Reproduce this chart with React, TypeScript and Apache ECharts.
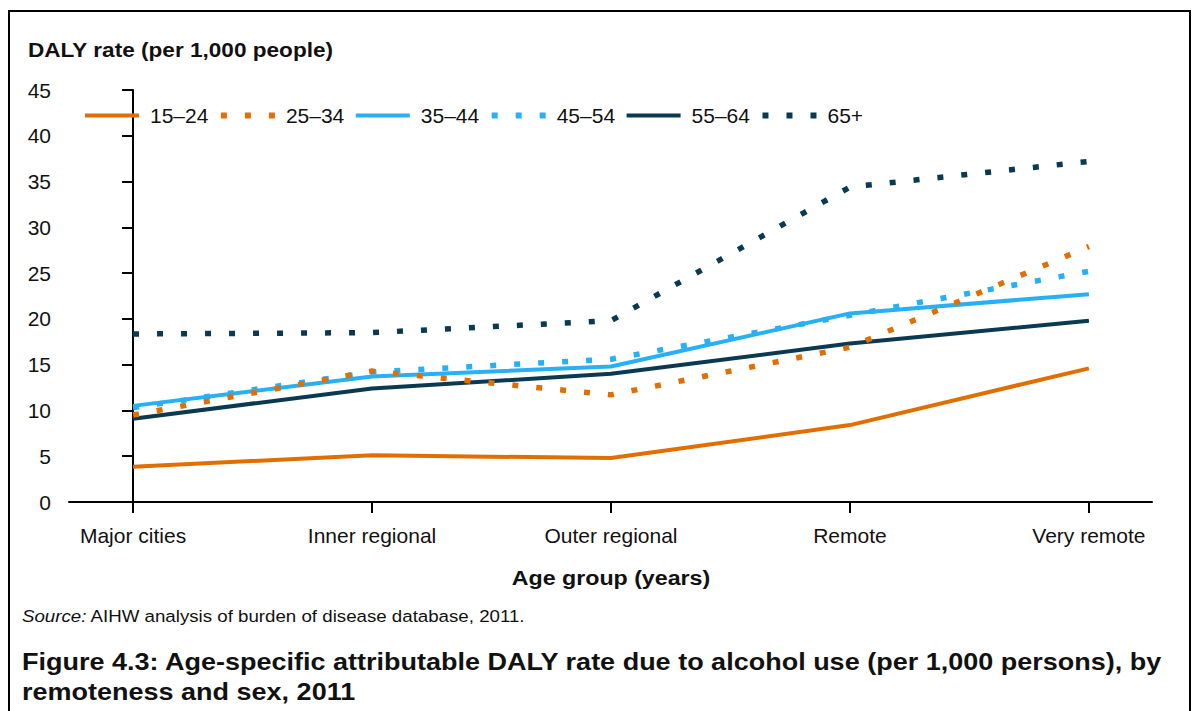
import React, { useEffect, useRef } from "react";
import * as echarts from "echarts";

const categories = ["Major cities", "Inner regional", "Outer regional", "Remote", "Very remote"];
const ageGroups = ["15–24", "25–34", "35–44", "45–54", "55–64", "65+"];
const s15_24 = [3.85, 5.1, 4.8, 8.4, 14.6];
const s25_34 = [9.5, 14.3, 11.7, 16.9, 27.9];
const s35_44 = [10.5, 13.7, 14.8, 20.6, 22.7];
const s45_54 = [10.3, 14.2, 15.6, 20.4, 25.2];
const s55_64 = [9.1, 12.4, 14.0, 17.3, 19.8];
const s65plus = [18.35, 18.5, 19.8, 34.4, 37.2];
const yTicks = [0, 5, 10, 15, 20, 25, 30, 35, 40, 45];

const seriesValues = [s15_24, s25_34, s35_44, s45_54, s55_64, s65plus];
const seriesColors = ["#E06F00", "#E06F00", "#27B0F3", "#27B0F3", "#0A3A52", "#0A3A52"];
const seriesDotted = [false, true, false, true, false, true];

const FONT = "Liberation Sans, Arial, sans-serif";

export default function App() {
  const ref = useRef<HTMLDivElement>(null);
  useEffect(() => {
    document.body.style.margin = "0";
    if (!ref.current) return;
    const chart = echarts.init(ref.current, null, { renderer: "svg" });
    const idx = categories.map((_, i) => i);
    const lineStyleFor = (k: number) => ({
      color: seriesColors[k],
      width: seriesDotted[k] ? 6 : 4,
      type: seriesDotted[k] ? [6, 18] : "solid",
      cap: "butt",
    });
    const option: any = {
      animation: false,
      backgroundColor: "#ffffff",
      textStyle: { fontFamily: FONT },
      grid: { left: 69, right: 48, top: 90, bottom: 209, containLabel: false },
      legend: {
        left: 83,
        top: 105,
        padding: 0,
        itemWidth: 54,
        itemHeight: 14,
        itemGap: 9.5,
        itemStyle: { opacity: 0 },
        textStyle: { fontSize: 21, color: "#111", fontFamily: FONT, padding: [0, 0, 0, 6] },
        data: ageGroups.map((name, k) => ({
          name,
          itemStyle: { opacity: 0 },
          lineStyle: lineStyleFor(k),
        })),
      },
      xAxis: {
        type: "value",
        min: -0.268,
        max: 4.264,
        splitLine: { show: false },
        axisLine: { show: true, onZero: false, lineStyle: { color: "#000", width: 2 } },
        axisTick: {
          show: true,
          customValues: idx,
          length: 11,
          lineStyle: { color: "#000", width: 2 },
        },
        axisLabel: {
          customValues: idx,
          fontSize: 21,
          color: "#111",
          fontFamily: FONT,
          margin: 23,
          formatter: (v: number) => categories[Math.round(v)] ?? "",
        },
      },
      yAxis: {
        type: "value",
        min: 0,
        max: 45,
        interval: 5,
        splitLine: { show: false },
        axisLine: { show: true, lineStyle: { color: "#000", width: 2 } },
        axisTick: { show: true, length: 11, lineStyle: { color: "#000", width: 2 } },
        axisLabel: {
          fontSize: 21,
          color: "#111",
          fontFamily: FONT,
          margin: 18,
          formatter: (v: number) => (yTicks.includes(v) ? String(v) : ""),
        },
      },
      series: ageGroups.map((name, k) => ({
        name,
        type: "line",
        symbol: "none",
        z: 10 - k,
        data: seriesValues[k].map((v, i) => [i, v]),
        lineStyle: { ...lineStyleFor(k), width: seriesDotted[k] ? 5.5 : 4 },
        itemStyle: { color: seriesColors[k] },
      })),
      graphic: [
        {
          type: "polyline",
          shape: { points: [[9, 740], [9, 11], [1190, 11], [1190, 740]] },
          style: { stroke: "#000", lineWidth: 2, fill: "none" },
          silent: true,
        },
        {
          type: "text",
          x: 28,
          y: 50,
          scaleX: 1.13,
          style: {
            text: "DALY rate (per 1,000 people)",
            font: `bold 20px ${FONT}`,
            fill: "#111",
            verticalAlign: "middle",
          },
        },
        {
          type: "text",
          x: 611,
          y: 578,
          scaleX: 1.16,
          style: {
            text: "Age group (years)",
            font: `bold 20px ${FONT}`,
            fill: "#111",
            align: "center",
            verticalAlign: "middle",
          },
        },
        {
          type: "text",
          x: 22,
          y: 616,
          scaleX: 1.1,
          style: {
            rich: {
              i: { font: `italic 17px ${FONT}`, fill: "#111" },
              n: { font: `17px ${FONT}`, fill: "#111" },
            },
            text: "{i|Source:}{n| AIHW analysis of burden of disease database, 2011.}",
            verticalAlign: "middle",
          },
        },
        {
          type: "text",
          x: 22,
          y: 662,
          scaleX: 1.174,
          style: {
            text: "Figure 4.3: Age-specific attributable DALY rate due to alcohol use (per 1,000 persons), by",
            font: `bold 23px ${FONT}`,
            fill: "#111",
            verticalAlign: "middle",
          },
        },
        {
          type: "text",
          x: 22,
          y: 692,
          scaleX: 1.174,
          style: {
            text: "remoteness and sex, 2011",
            font: `bold 23px ${FONT}`,
            fill: "#111",
            verticalAlign: "middle",
          },
        },
      ],
    };
    chart.setOption(option);
    return () => chart.dispose();
  }, []);
  return <div ref={ref} style={{ width: 1200, height: 711 }} />;
}
